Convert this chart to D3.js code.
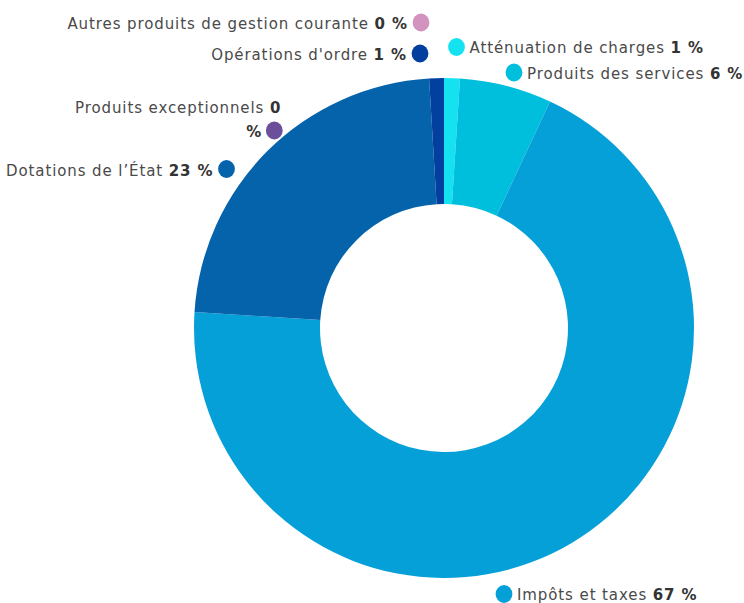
<!DOCTYPE html>
<html lang="fr">
<head>
<meta charset="utf-8">
<script src="https://cdn.jsdelivr.net/npm/d3@7"></script>
<style>
  html, body { margin: 0; padding: 0; background: #fff; }
  svg { display: block; }
  .lbl { font-family: "DejaVu Sans", sans-serif; font-size: 15px; letter-spacing: 0.9px; fill: #4a4a4a; }
  .lbl .pct { font-weight: bold; fill: #333; }
</style>
</head>
<body>
<svg id="chart"></svg>
<script>
// ====== Données ======
// Ordre des secteurs : sens horaire depuis midi
const categories = [
  "Atténuation de charges",
  "Produits des services",
  "Impôts et taxes",
  "Dotations de l’État",
  "Produits exceptionnels",
  "Autres produits de gestion courante",
  "Opérations d'ordre"
];
const shares = [1.02, 5.95, 69.05, 23.03, 0, 0, 0.95];
// textes affichés dans les étiquettes
const pctLabels = ["1 %", "6 %", "67 %", "23 %", "0 %", "0 %", "1 %"];
const colors = ["#14e2f0", "#00bfdd", "#06a0d9", "#0563ab", "#6b4f9b", "#d393bf", "#033f9f"];

// ====== Mise en page ======
const width = 744, height = 603;
const cx = 444, cy = 328;
const outerR = 250, innerR = 124;

// position des pastilles + côté du texte (à la main, comme dans l'original)
const labelLayout = [
  { x: 456.5, y: 47,  side: "right", base: 53 },
  { x: 514,   y: 72.5, side: "right", base: 79 },
  { x: 504,   y: 594, side: "right", base: 600 },
  { x: 226.5, y: 169, side: "left",  base: 176 },
  { x: 274.3, y: 130.5, side: "left", base: 113, wrap: true },
  { x: 421,   y: 22.5, side: "left",  base: 29 },
  { x: 420,   y: 53.5, side: "left",  base: 60 }
];

const svg = d3.select("#chart").attr("width", width).attr("height", height);

const pie = d3.pie().sort(null).value(d => d.value);
const arc = d3.arc().innerRadius(innerR).outerRadius(outerR);

const data = categories.map((name, i) => ({ name, value: shares[i], color: colors[i], pct: pctLabels[i], i }));

const g = svg.append("g").attr("transform", `translate(${cx},${cy})`);
g.selectAll("path")
  .data(pie(data))
  .join("path")
  .attr("d", arc)
  .attr("fill", d => d.data.color);

// ====== Étiquettes ======
const labels = svg.append("g");
data.forEach((d, i) => {
  const L = labelLayout[i];
  labels.append("ellipse")
    .attr("cx", L.x).attr("cy", L.y)
    .attr("rx", 8.4).attr("ry", 9)
    .attr("fill", d.color);

  const t = labels.append("text").attr("class", "lbl");
  if (L.side === "right") {
    t.attr("x", L.x + 13).attr("y", L.base).attr("text-anchor", "start");
    t.append("tspan").text(d.name + " ");
    t.append("tspan").attr("class", "pct").text(d.pct);
  } else if (L.wrap) {
    // "Produits exceptionnels 0" / "%"
    const parts = d.pct.split(" ");
    t.attr("text-anchor", "end");
    t.append("tspan").attr("x", L.x + 7).attr("y", L.base).text(d.name + " ")
      .append("tspan").attr("class", "pct").text(parts[0]);
    t.append("tspan").attr("x", L.x - 12).attr("y", L.base + 24).attr("class", "pct").text(parts[1]);
  } else {
    t.attr("x", L.x - 13).attr("y", L.base).attr("text-anchor", "end");
    t.append("tspan").text(d.name + " ");
    t.append("tspan").attr("class", "pct").text(d.pct);
  }
});
</script>
</body>
</html>
